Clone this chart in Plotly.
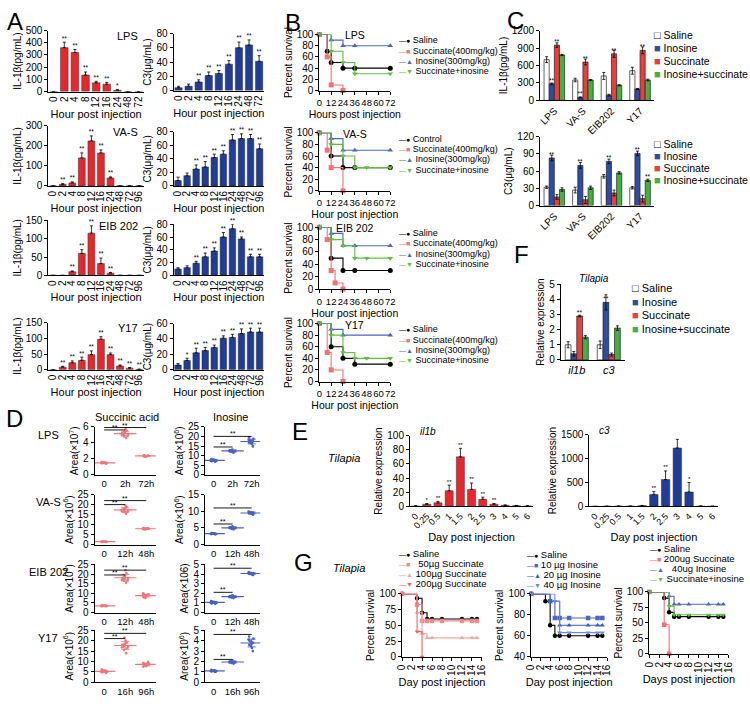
import copy
import plotly.graph_objects as go
import numpy as np

W, H = 750, 708

# ---------------- DATA ----------------
hours9 = ["0", "2", "4", "8", "12", "16", "24", "48", "72"]
hours10 = ["0", "2", "4", "8", "12", "16", "24", "48", "72", "96"]

il_lps = [0, 360, 320, 135, 72, 60, 10, 0, 0]
il_lps_err = [0, 45, 25, 25, 12, 15, 5, 0, 0]
il_lps_sig = ["", "**", "**", "**", "**", "**", "*", "", ""]
c3_lps = [4, 6, 12, 21, 24, 37, 60, 64, 41]
c3_lps_err = [2, 3, 3, 5, 4, 5, 8, 7, 8]
c3_lps_sig = ["", "", "**", "**", "**", "**", "**", "**", "**"]

il_vas = [0, 8, 15, 140, 225, 165, 40, 0, 0, 0]
il_vas_err = [0, 3, 5, 25, 25, 15, 5, 0, 0, 0]
il_vas_sig = ["", "**", "**", "**", "**", "**", "**", "", "", ""]
c3_vas = [8, 15, 25, 28, 42, 47, 68, 70, 70, 55]
c3_vas_err = [5, 4, 6, 8, 5, 5, 8, 7, 6, 7]
c3_vas_sig = ["", "", "**", "**", "**", "**", "**", "**", "**", "**"]

il_eib = [0, 0, 10, 60, 115, 32, 6, 0, 0, 0]
il_eib_err = [0, 0, 2, 10, 20, 15, 2, 0, 0, 0]
il_eib_sig = ["", "", "**", "**", "**", "**", "**", "", "", ""]
c3_eib = [10, 12, 19, 29, 38, 60, 73, 57, 29, 29]
c3_eib_err = [2, 3, 3, 6, 5, 7, 7, 3, 4, 4]
c3_eib_sig = ["", "", "**", "**", "**", "**", "**", "**", "**", "**"]

il_y17 = [0, 8, 22, 30, 48, 97, 48, 12, 5, 1]
il_y17_err = [0, 3, 6, 10, 12, 8, 5, 3, 2, 1]
il_y17_sig = ["", "**", "**", "**", "**", "**", "**", "**", "**", "**"]
c3_y17 = [6, 12, 22, 25, 29, 41, 42, 47, 49, 49]
c3_y17_err = [2, 3, 6, 4, 3, 3, 4, 6, 5, 5]
c3_y17_sig = ["", "*", "**", "**", "**", "**", "**", "**", "**", "**"]

# B survival (hours, percent)
b_lps = {
    "Saline": ([0, 8, 12, 24, 36, 72], [100, 70, 50, 40, 40, 40]),
    "Succinate(400mg/kg)": ([0, 8, 12, 24], [100, 60, 10, 0]),
    "Inosine(300mg/kg)": ([0, 12, 24, 36, 72], [100, 90, 80, 80, 80]),
    "Succinate+inosine": ([0, 12, 24, 36, 72], [100, 70, 50, 30, 30]),
}
b_vas = {
    "Control": ([0, 12, 24, 36, 72], [100, 60, 40, 40, 40]),
    "Succinate(400mg/kg)": ([0, 8, 12, 24], [100, 70, 40, 0]),
    "Inosine(300mg/kg)": ([0, 12, 24, 36, 72], [100, 90, 70, 70, 70]),
    "Succinate+inosine": ([0, 12, 24, 36, 48, 72], [100, 80, 60, 40, 40, 40]),
}
b_eib = {
    "Saline": ([0, 12, 24, 36, 72], [100, 50, 30, 30, 30]),
    "Succinate(400mg/kg)": ([0, 8, 12, 16, 24], [100, 80, 30, 10, 0]),
    "Inosine(300mg/kg)": ([0, 12, 24, 36, 72], [100, 90, 70, 70, 70]),
    "Succinate+inosine": ([0, 12, 24, 36, 48, 72], [100, 80, 70, 50, 50, 50]),
}
b_y17 = {
    "Saline": ([0, 12, 24, 36, 72], [100, 60, 40, 30, 30]),
    "Succinate(400mg/kg)": ([0, 8, 12, 24], [100, 50, 20, 0]),
    "Inosine(300mg/kg)": ([0, 12, 24, 72], [100, 90, 80, 80]),
    "Succinate+inosine": ([0, 12, 24, 36, 48, 72], [100, 80, 50, 40, 40, 40]),
}

# C
c_groups = ["LPS", "VA-S", "EIB202", "Y17"]
c_series = ["Saline", "Inosine", "Succinate", "Inosine+succinate"]
c_il = {"Saline": [700, 350, 420, 510], "Inosine": [285, 50, 90, 195],
        "Succinate": [950, 660, 800, 860], "Inosine+succinate": [780, 350, 260, 350]}
c_il_err = {"Saline": [50, 30, 60, 60], "Inosine": [15, 10, 15, 10],
            "Succinate": [40, 50, 60, 60], "Inosine+succinate": [10, 10, 10, 15]}
c_il_sig = {"Saline": ["", "", "", ""], "Inosine": ["**", "**", "", ""],
            "Succinate": ["**", "**", "**", "**"], "Inosine+succinate": ["", "", "", ""]}
c_c3 = {"Saline": [32, 27, 51, 31], "Inosine": [83, 70, 77, 91],
        "Succinate": [15, 10, 22, 12], "Inosine+succinate": [28, 31, 57, 44]}
c_c3_err = {"Saline": [2, 5, 3, 2], "Inosine": [5, 5, 4, 4],
            "Succinate": [4, 6, 5, 6], "Inosine+succinate": [3, 3, 2, 2]}
c_c3_sig = {"Saline": ["", "", "", ""], "Inosine": ["**", "**", "**", "**"],
            "Succinate": ["", "", "", ""], "Inosine+succinate": ["", "", "", "**"]}

# D  (peak areas)
d_rows = ["LPS", "VA-S", "EIB 202", "Y17"]
d_cats = [["0", "2h", "72h"], ["0", "12h", "48h"], ["0", "12h", "48h"], ["0", "16h", "96h"]]
d_succ = [
    [[1.45, 1.5, 1.55, 1.5, 1.6, 1.4, 1.5, 1.55, 1.45, 1.5],
     [4.6, 4.8, 5.0, 5.1, 5.2, 5.3, 5.5, 5.7, 4.9, 5.0, 5.4, 5.2],
     [2.3, 2.35, 2.4, 2.3, 2.45, 2.35, 2.4, 2.3, 2.35, 2.4]],
    [[1.4, 1.5, 1.6, 1.5, 1.55, 1.45, 1.5, 1.6, 1.4, 1.5],
     [15.5, 16.2, 16.8, 17.0, 17.2, 17.5, 17.8, 18.2, 18.8, 19.5, 16.5, 17.3],
     [7.6, 7.8, 8.0, 8.1, 8.2, 7.9, 8.0, 8.3, 7.7, 8.1]],
    [[3.2, 3.4, 3.5, 3.6, 3.5, 3.4, 3.6, 3.5, 3.3, 3.7],
     [15.5, 16.5, 17.0, 17.3, 17.6, 18.0, 18.5, 19.2, 20.5, 22.0, 17.8, 16.8],
     [7.5, 8.0, 8.4, 8.7, 9.0, 9.2, 9.5, 10.0, 8.8, 9.1]],
    [[4.5, 4.8, 5.0, 5.2, 5.4, 5.6, 5.8, 6.2, 5.1, 5.3],
     [14.0, 15.5, 16.5, 17.0, 17.5, 18.0, 18.5, 19.0, 20.0, 21.5, 17.2, 16.8, 18.2],
     [7.5, 7.8, 8.2, 8.5, 8.7, 9.0, 9.3, 9.8, 8.4, 8.6]],
]
d_ino = [
    [[6.8, 7.2, 7.5, 7.8, 8.0, 8.3, 7.4, 7.6, 7.9, 7.1],
     [11.5, 12.0, 12.3, 12.6, 12.8, 13.2, 12.5, 12.1, 12.9, 12.4],
     [14.8, 16.0, 16.8, 17.2, 17.5, 17.8, 18.2, 18.8, 19.5, 17.0, 16.5, 18.0]],
    [[3.1, 3.2, 3.3, 3.4, 3.3, 3.2, 3.4, 3.3, 3.5, 3.2],
     [4.6, 4.8, 5.0, 5.1, 5.2, 5.3, 4.9, 5.0, 5.5, 5.1],
     [9.0, 9.2, 9.4, 9.5, 9.6, 9.8, 9.3, 9.7, 9.5, 9.9]],
    [[0.9, 0.95, 1.0, 1.05, 1.1, 1.15, 1.0, 1.05, 1.1, 1.2],
     [1.5, 1.55, 1.6, 1.65, 1.7, 1.75, 1.6, 1.7, 1.65, 1.8],
     [3.9, 3.95, 4.0, 4.05, 4.1, 4.15, 4.0, 4.05, 4.2, 4.1]],
    [[1.0, 1.05, 1.1, 1.1, 1.15, 1.2, 1.05, 1.1, 1.15, 1.1],
     [1.8, 1.85, 1.9, 1.95, 2.0, 2.05, 2.1, 1.9, 2.0, 1.95],
     [3.0, 3.3, 3.5, 3.7, 3.8, 3.9, 4.0, 4.2, 4.4, 3.6, 3.8, 4.1]],
]
d_succ_ymax = [6, 25, 25, 25]
d_succ_dtick = [2, 5, 5, 5]
d_ino_ymax = [25, 15, 5, 5]
d_ino_dtick = [5, 5, 1, 1]
d_succ_title = ["Area(×10<sup>7</sup>)", "Area(×10<sup>6</sup>)", "Area(×10<sup>6</sup>)", "Area(×10<sup>6</sup>)"]
d_ino_title = ["Area(×10<sup>6</sup>)", "Area(×10<sup>6</sup>)", "Area(×106)", "Area(×10<sup>6</sup>)"]
d_succ_sig = [[5.6, 5.9], [20.0, 22.0], [19.5, 22.0], [21.0, 23.5]]
d_ino_sig = [[14.5, 20.0], [6.2, 11.0], [2.1, 4.6], [2.2, 4.6]]

# E
e_days = ["0", "0.25", "0.5", "1", "1.5", "2", "2.5", "3", "4", "5", "6"]
e_il1b = [0.5, 3, 5, 22, 70, 24, 10, 3, 1.5, 1, 0.5]
e_il1b_err = [0.3, 1, 2, 8, 12, 9, 3, 1, 0.5, 0.3, 0.2]
e_il1b_sig = ["", "*", "**", "**", "**", "**", "**", "**", "", "", ""]
e_c3 = [0, 3, 5, 5, 15, 250, 560, 1220, 300, 5, 3]
e_c3_err = [0, 1, 2, 2, 5, 60, 180, 180, 200, 2, 1]
e_c3_sig = ["", "", "", "", "", "**", "**", "", "*", "", ""]

# F
f_genes = ["il1b", "c3"]
f_vals = {"Saline": [1.0, 1.0], "Inosine": [0.4, 3.8], "Succinate": [2.9, 0.35], "Inosine+succinate": [1.5, 2.1]}
f_err = {"Saline": [0.2, 0.25], "Inosine": [0.15, 0.5], "Succinate": [0.05, 0.1], "Inosine+succinate": [0.1, 0.15]}
f_sig = {"Saline": ["", ""], "Inosine": ["", "**"], "Succinate": ["**", ""], "Inosine+succinate": ["", ""]}

# G survival (days, percent)
g1 = {
    "Saline": ([0, 3, 4, 5, 6, 8, 12, 14, 15], [100, 93, 70, 60, 60, 60, 60, 60, 60]),
    "  50µg Succinate": ([0, 3, 4, 5, 6, 8, 12, 14, 15], [100, 83, 57, 57, 57, 57, 57, 57, 57]),
    "100µg Succinate": ([0, 3, 4, 5, 6, 12, 14, 15], [100, 70, 37, 30, 30, 30, 30, 30]),
    "200µg Succinate": ([0, 3, 4], [100, 40, 0]),
}
g2 = {
    "Saline": ([0, 3, 4, 5, 6, 8, 12, 14, 15], [100, 93, 70, 60, 60, 60, 60, 60, 60]),
    "10 µg Inosine": ([0, 4, 5, 6, 8, 12, 14, 15], [100, 93, 77, 77, 77, 77, 77, 77]),
    "20 µg Inosine": ([0, 4, 6, 8, 12, 14, 15], [100, 93, 70, 70, 70, 70, 70]),
    "40 µg Inosine": ([0, 5, 6, 8, 12, 14, 15], [100, 93, 63, 63, 63, 63, 63]),
}
g3 = {
    "Saline": ([0, 3, 4, 5, 6, 8, 12, 14, 15], [100, 90, 67, 60, 60, 60, 60, 60, 60]),
    "200ug Succinate": ([0, 3, 4], [100, 47, 0]),
    "  40ug Inosine": ([0, 4, 5, 6, 8, 12, 14, 15], [100, 93, 80, 80, 80, 80, 80, 80]),
    "Succinate+inosine": ([0, 4, 5, 6, 8, 12, 14, 15], [100, 77, 63, 63, 63, 63, 63, 63]),
}

# ---------------- STYLE ----------------
RED = "#e8262b"
NAVY = "#1f3c96"
C_COL = {"Saline": "white", "Inosine": "#2a4ea8", "Succinate": "#ee3b3b", "Inosine+succinate": "#3fb23f"}
B_COL = ["#000000", "#f47272", "#4a67c8", "#5cc23e"]
B_SYM = ["circle", "square", "triangle-up", "triangle-down"]
B_GLY = ["●", "■", "▲", "▼"]
FONT = "Liberation Sans, Arial, Helvetica, sans-serif"

AX = dict(showline=True, linecolor="black", linewidth=1, ticks="outside", ticklen=3,
          tickwidth=1, tickcolor="black", showgrid=False, zeroline=False,
          tickfont=dict(size=10, color="black", family=FONT))

fig = go.Figure()
layout = dict(width=W, height=H, margin=dict(l=0, r=0, t=0, b=0, pad=0), autosize=False,
              plot_bgcolor="white", paper_bgcolor="white", showlegend=False,
              font=dict(family=FONT, size=10, color="black"),
              barmode="group", bargap=0.28, bargroupgap=0.0)
annotations = []
shapes = []
counter = [0]


def new_axes(box, xkw=None, ykw=None):
    counter[0] += 1
    i = counter[0]
    l, r, t, b = box
    xs = "x" if i == 1 else f"x{i}"
    ys = "y" if i == 1 else f"y{i}"
    xa = copy.deepcopy(AX)
    xa.update(domain=[l / W, r / W], anchor=ys)
    xa.update(copy.deepcopy(xkw or {}))
    ya = copy.deepcopy(AX)
    ya.update(domain=[1 - b / H, 1 - t / H], anchor=xs)
    ya.update(copy.deepcopy(ykw or {}))
    layout["xaxis" if i == 1 else f"xaxis{i}"] = xa
    layout["yaxis" if i == 1 else f"yaxis{i}"] = ya
    return xs, ys


def text(x, y, s, size=10, xanchor="center", yanchor="middle", **kw):
    annotations.append(dict(x=x / W, y=1 - y / H, xref="paper", yref="paper", text=s,
                            showarrow=False, xanchor=xanchor, yanchor=yanchor,
                            font=dict(size=size, color="black", family=FONT), **kw))


def ytitle(s):
    return dict(text=s, font=dict(size=10, family=FONT), standoff=2)


def tf(size):
    return dict(size=size, color="black", family=FONT)


def star_trace(cats, vals, errs, sig, xs, ys, size=6.5):
    pts = [(c, v + e, s) for c, v, e, s in zip(cats, vals, errs, sig) if s]
    fig.add_trace(go.Scatter(x=[p[0] for p in pts], y=[p[1] for p in pts], mode="text",
                             text=[p[2] for p in pts], textposition="top center",
                             textfont=tf(size), xaxis=xs, yaxis=ys, cliponaxis=False))


def bar_panel(box, cats, vals, errs, sig, color, ymax, dtick, ylab, xlab):
    xs, ys = new_axes(box,
                      dict(type="category", tickangle=-90, ticks="", tickmode="array", tickvals=cats,
                           ticktext=cats, tickfont=tf(10),
                           title=dict(text=xlab, font=tf(11), standoff=1)),
                      dict(range=[0, ymax], dtick=dtick, title=ytitle(ylab)))
    fig.add_trace(go.Bar(x=cats, y=vals, marker=dict(color=color, line=dict(color="#333", width=0.5)),
                         error_y=dict(type="data", array=errs, arrayminus=[0] * len(errs), symmetric=False,
                                      color="black", thickness=0.8, width=1.5),
                         xaxis=xs, yaxis=ys, cliponaxis=False))
    star_trace(cats, vals, errs, sig, xs, ys)
    return xs, ys


def grouped_bars(cats, vals, errs, sig, xs, ys):
    for s in c_series:
        labels = [t if t else None for t in sig[s]]
        kw = {}
        if any(labels):
            kw = dict(text=labels, textposition="outside", textfont=tf(6.5), constraintext="none")
        fig.add_trace(go.Bar(x=cats, y=vals[s], name=s,
                             marker=dict(color=C_COL[s], line=dict(color="#222", width=0.7)),
                             error_y=dict(type="data", array=errs[s], color="black", thickness=0.8, width=1.5),
                             xaxis=xs, yaxis=ys, cliponaxis=False, **kw))


def box_legend(x, y0, dy, fs, gs):
    for k, s in enumerate(c_series):
        g = "□" if s == "Saline" else "■"
        col = "black" if s == "Saline" else C_COL[s]
        text(x, y0 + k * dy, f"<span style='color:{col};font-size:{gs}px'>{g}</span> {s}", size=fs, xanchor="left")


# ---------------- A ----------------
A_rows = [
    (hours9, il_lps, il_lps_err, il_lps_sig, 500, 100, c3_lps, c3_lps_err, c3_lps_sig, 80, 20, "LPS", (25, 87), (28, 86)),
    (hours10, il_vas, il_vas_err, il_vas_sig, 300, 100, c3_vas, c3_vas_err, c3_vas_sig, 80, 20, "VA-S", (122, 183), (128, 183)),
    (hours10, il_eib, il_eib_err, il_eib_sig, 150, 50, c3_eib, c3_eib_err, c3_eib_sig, 80, 20, "EIB 202", (218, 274), (222, 274)),
    (hours10, il_y17, il_y17_err, il_y17_sig, 150, 50, c3_y17, c3_y17_err, c3_y17_sig, 60, 20, "Y17", (322, 370), (323, 370)),
]
for cats, il, ile, ils, ilmax, ildt, c3, c3e, c3s, c3max, c3dt, lab, (t1, b1), (t2, b2) in A_rows:
    bar_panel((43, 140, t1, b1), cats, il, ile, ils, RED, ilmax, ildt, "IL-1β(pg/mL)", "Hour post injection")
    bar_panel((170, 262, t2, b2), cats, c3, c3e, c3s, NAVY, c3max, c3dt, "C3(μg/mL)", "Hour post injection")
    text(136, t1 + 6, lab, size=11, xanchor="right")

# ---------------- B ----------------
B_panels = [(b_lps, "LPS", (29, 86), "Hours post injection"),
            (b_vas, "VA-S", (129, 188), "Hour post injection"),
            (b_eib, "EIB 202", (225, 288), "Hour post injection"),
            (b_y17, "Y17", (323, 382), "Hour post injection")]
for data, lab, (t, b), xlab in B_panels:
    xs, ys = new_axes((318, 390, t, b),
                      dict(range=[0, 72], tickmode="array", tickvals=[0, 12, 24, 36, 48, 60, 72],
                           tickangle=0, tickfont=tf(9.5),
                           title=dict(text=xlab, font=tf(10.5), standoff=1)),
                      dict(range=[0, 100], dtick=20, title=ytitle("Percent survival")))
    for k, (name, (tt, ss)) in enumerate(data.items()):
        fig.add_trace(go.Scatter(x=tt, y=ss, mode="lines+markers", line=dict(shape="hv", color=B_COL[k], width=1.1),
                                 marker=dict(symbol=B_SYM[k], size=5, color=B_COL[k]), xaxis=xs, yaxis=ys,
                                 cliponaxis=False))
        text(397, t + 6 + k * 10.5,
             f"<span style='color:{B_COL[k]};font-size:7px'>—{B_GLY[k]}</span> {name}", size=9, xanchor="left")
    text(354, t + 1, lab, size=10.5)

# ---------------- C ----------------
for vals, errs, sig, ymax, dt, ylab, (t, b), y0, dy in [
        (c_il, c_il_err, c_il_sig, 1200, 300, "IL-1β(pg/mL)", (25, 96), 29, 13.5),
        (c_c3, c_c3_err, c_c3_sig, 120, 30, "C3(μg/mL)", (133, 203), 140, 12.5)]:
    xs, ys = new_axes((542, 658, t, b),
                      dict(type="category", tickangle=-45, ticks="", tickmode="array", tickvals=c_groups,
                           ticktext=c_groups, tickfont=tf(10)),
                      dict(range=[0, ymax], dtick=dt, title=ytitle(ylab)))
    grouped_bars(c_groups, vals, errs, sig, xs, ys)
    box_legend(656, y0, dy, 10.5, 11)

# ---------------- D ----------------
D_boxes = [(428, 477), (497, 548), (568, 617), (635, 688)]
for r in range(4):
    t, b = D_boxes[r]
    for col, (vals, ymax, dtk, ytl, sigy, color, l, rr) in enumerate([
            (d_succ[r], d_succ_ymax[r], d_succ_dtick[r], d_succ_title[r], d_succ_sig[r], "#f2767a", 90, 152),
            (d_ino[r], d_ino_ymax[r], d_ino_dtick[r], d_ino_title[r], d_ino_sig[r], "#4763c4", 202, 258)]):
        xs, ys = new_axes((l, rr, t, b),
                          dict(type="category", range=[-0.45, 2.45], ticks="", tickangle=0, tickmode="array",
                               tickvals=d_cats[r], ticktext=d_cats[r], tickfont=tf(9.5)),
                          dict(range=[0, ymax], dtick=dtk, title=ytitle(ytl)))
        xcat = []
        ycat = []
        for c, v in zip(d_cats[r], vals):
            xcat += [c] * len(v)
            ycat += v
        fig.add_trace(go.Box(x=xcat, y=ycat, boxpoints="all", jitter=0.7, pointpos=0,
                             fillcolor="rgba(0,0,0,0)", line=dict(color="rgba(0,0,0,0)", width=0),
                             marker=dict(color=color, size=2.6), whiskerwidth=0, xaxis=xs, yaxis=ys))
        fig.add_trace(go.Scatter(x=d_cats[r], y=[float(np.mean(v)) for v in vals], mode="markers",
                                 marker=dict(symbol="line-ew", size=16, line=dict(color=color, width=1.2)),
                                 error_y=dict(type="data", array=[float(np.std(v)) for v in vals],
                                              color=color, thickness=0.9, width=4),
                                 xaxis=xs, yaxis=ys))
        for (j, yv) in zip([1, 2], sigy):
            shapes.append(dict(type="line", xref=xs, yref=ys, x0=0, x1=j, y0=yv, y1=yv,
                               line=dict(color="black", width=0.9)))
            annotations.append(dict(x=j / 2, y=yv, xref=xs, yref=ys, text="**", showarrow=False,
                                    yanchor="bottom", font=tf(7), yshift=-3))
    text(43, t + 8, d_rows[r], size=11)
text(123, 418, "Succinic acid", size=11)
text(228, 418, "Inosine", size=11)

# ---------------- E ----------------
for cats, vals, errs, sig, color, ymax, dt, box, ttl in [
        (e_days, e_il1b, e_il1b_err, e_il1b_sig, RED, 100, 20, (410, 535, 437, 509), "il1b"),
        (e_days, e_c3, e_c3_err, e_c3_sig, NAVY, 1500, 500, (592, 723, 436, 509), "c3")]:
    xs, ys = new_axes(box,
                      dict(type="category", tickangle=-45, ticks="", tickmode="array", tickvals=cats,
                           ticktext=cats, tickfont=tf(9),
                           title=dict(text="Day post injection", font=tf(11), standoff=0)),
                      dict(range=[0, ymax], dtick=dt, title=ytitle("Relative expression")))
    fig.add_trace(go.Bar(x=cats, y=vals, marker=dict(color=color, line=dict(color="#333", width=0.5)),
                         error_y=dict(type="data", array=errs, arrayminus=[0] * len(errs), symmetric=False,
                                      color="black", thickness=0.8, width=1.5),
                         xaxis=xs, yaxis=ys, cliponaxis=False))
    star_trace(cats, vals, errs, sig, xs, ys, size=6)
    text(box[0] + 8, box[2] - 4, f"<i>{ttl}</i>", size=10, xanchor="left")

# ---------------- F ----------------
xs, ys = new_axes((563, 628, 283, 360),
                  dict(type="category", ticks="", tickmode="array", tickvals=f_genes, tickangle=0,
                       ticktext=["<i>il1b</i>", "<i>c3</i>"], tickfont=tf(11)),
                  dict(range=[0, 5], dtick=1, title=ytitle("Relative expression")))
grouped_bars(f_genes, f_vals, f_err, f_sig, xs, ys)
box_legend(633, 287, 13.8, 11, 11)
text(597, 277, "<i>Tilapia</i>", size=10)

# ---------------- G ----------------
G_COL = [["#000000", "#f08a8a", "#f5a5a5", "#f46262"],
         ["#000000", "#4a67c8", "#3b5bc4", "#6f8ade"],
         ["#000000", "#f46f6f", "#4a67c8", "#5cc23e"]]
G_SYM = ["circle", "square", "triangle-up", "triangle-down"]
G_panels = [(g1, (402, 483, 598, 662), [0, 100], 25, "Day post injection", 397, 557),
            (g2, (533, 610, 598, 662), [40, 100], 20, "Day post injection", 527, 558),
            (g3, (653, 733, 596, 659), [0, 100], 25, "Days post injection", 652, 552)]
for gi, (data, box, yr, dt, xlab, lx, ly) in enumerate(G_panels):
    xs, ys = new_axes(box,
                      dict(range=[0, 16], tickmode="linear", tick0=0, dtick=2, tickangle=-90, tickfont=tf(10),
                           title=dict(text=xlab, font=tf(11), standoff=1)),
                      dict(range=yr, dtick=dt, title=ytitle("Percent survival")))
    for k, (name, (tt, ss)) in enumerate(data.items()):
        fig.add_trace(go.Scatter(x=tt, y=ss, mode="lines+markers",
                                 line=dict(shape="hv", color=G_COL[gi][k], width=1.1),
                                 marker=dict(symbol=G_SYM[k], size=4.5, color=G_COL[gi][k]),
                                 xaxis=xs, yaxis=ys, cliponaxis=False))
        text(lx, ly + k * 10.2,
             f"<span style='color:{G_COL[gi][k]};font-size:7px'>—{B_GLY[k]}</span> {name}", size=9.5, xanchor="left")

# ---------------- panel letters / labels ----------------
for L, x, y in [("A", 9, 16), ("B", 291, 17), ("C", 517, 15), ("D", 9, 420),
                ("E", 298, 433), ("F", 523, 253), ("G", 302, 566)]:
    text(x, y, L, size=24)
text(343, 460, "<i>Tilapia</i>", size=11)
text(348, 572, "<i>Tilapia</i>", size=11)

layout["annotations"] = annotations
layout["shapes"] = shapes
fig.update_layout(**layout)
fig.write_html("out.html", config={"displayModeBar": False},
               post_script="document.body.style.margin='0';document.body.style.overflow='hidden';")
